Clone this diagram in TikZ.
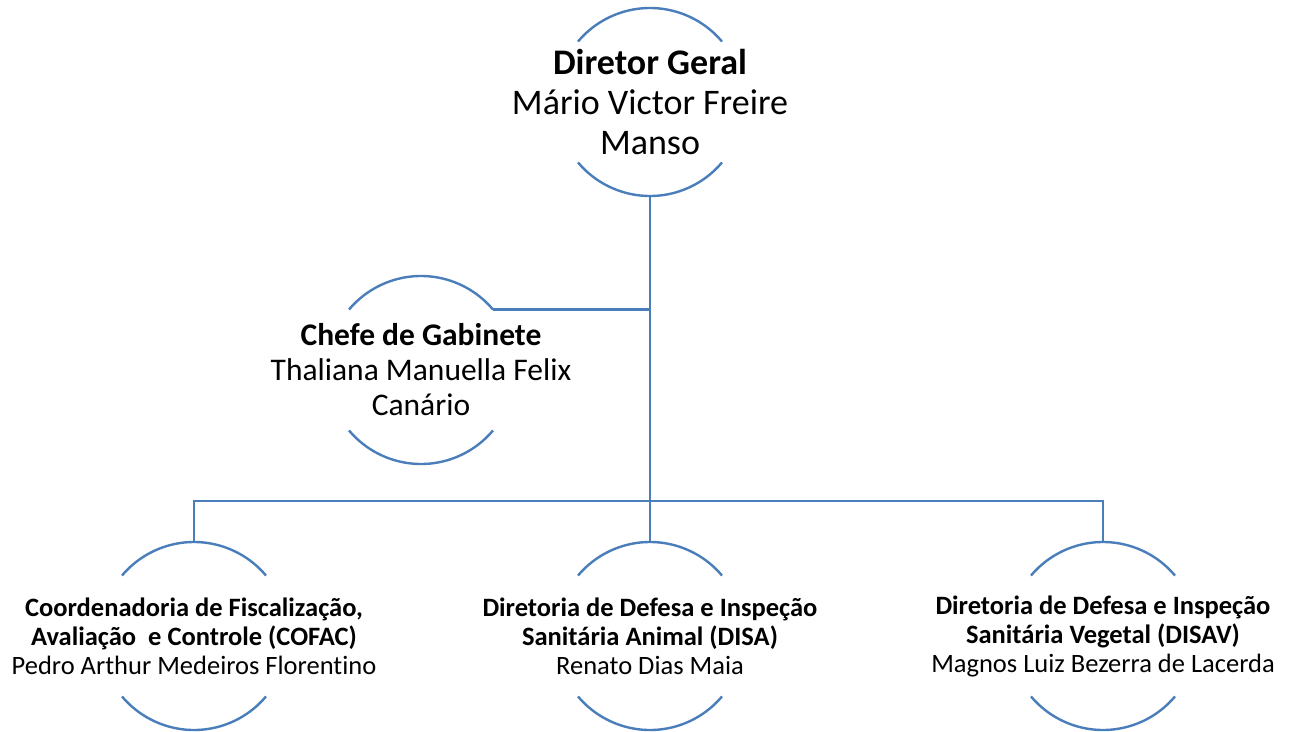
\documentclass[tikz,border=0pt]{standalone}
\usepackage{fontspec}
\setmainfont[Ligatures=NoCommon]{Carlito}
\definecolor{orgblue}{HTML}{4A7EBB}
\newcommand\rr{94pt}
% the two arcs round a name
\newcommand\orgarcs[1]{%
\draw [orgline] ([shift={(40:\rr)}]#1.center) arc [start angle=40, end angle=140, radius=\rr];
\draw [orgline] ([shift={(-40:\rr)}]#1.center) arc [start angle=-40, end angle=-140, radius=\rr];
\coordinate (#1-n) at ([yshift=\rr]#1.center);
\coordinate (#1-s) at ([yshift=-\rr]#1.center);
\coordinate (#1-e) at ([shift={(40:\rr)}]#1.center);}

\begin{document}
\begin{tikzpicture}[x=1pt, y=1pt,
  orgline/.style={orgblue, line width=2.4pt},
  bigname/.style={align=center, font=\fontsize{36}{40}\selectfont},
  midname/.style={align=center, font=\fontsize{31.5}{35}\selectfont},
  smallname/.style={align=center, font=\fontsize{26.5}{29}\selectfont}]
\useasboundingbox (0,0) rectangle (1290,-731);

% Diretor Geral
\node [bigname] (dg) at (650,-102) {\textbf{Diretor Geral}\\Mário Victor Freire\\Manso};
\orgarcs{dg}

% Chefe de Gabinete
\node [midname] (cg) at (421,-370) {\textbf{Chefe de Gabinete}\\Thaliana Manuella Felix\\Canário};
\orgarcs{cg}

% the three directorates
\node [smallname] (cofac) at (194,-636) {\textbf{Coordenadoria de Fiscalização,}\\\textbf{Avaliação~ e Controle (COFAC)}\\Pedro Arthur Medeiros Florentino};
\orgarcs{cofac}
\node [smallname] (disa) at (650,-636) {\textbf{Diretoria de Defesa e Inspeção}\\\textbf{Sanitária Animal (DISA)}\\Renato Dias Maia};
\orgarcs{disa}
\node [smallname] (disav) at (1103,-636) {\textbf{Diretoria de Defesa e Inspeção}\\\textbf{Sanitária Vegetal (DISAV)}\\Magnos Luiz Bezerra de Lacerda};
\orgarcs{disav}

% connectors
\coordinate (bus) at (650,-501);
\draw [orgline] (dg-s) -- (disa-n);
\draw [orgline] (cg-e) -- (cg-e -| dg-s);
\draw [orgline] (cofac-n) |- (bus) -| (disav-n);

\end{tikzpicture}
\end{document}
